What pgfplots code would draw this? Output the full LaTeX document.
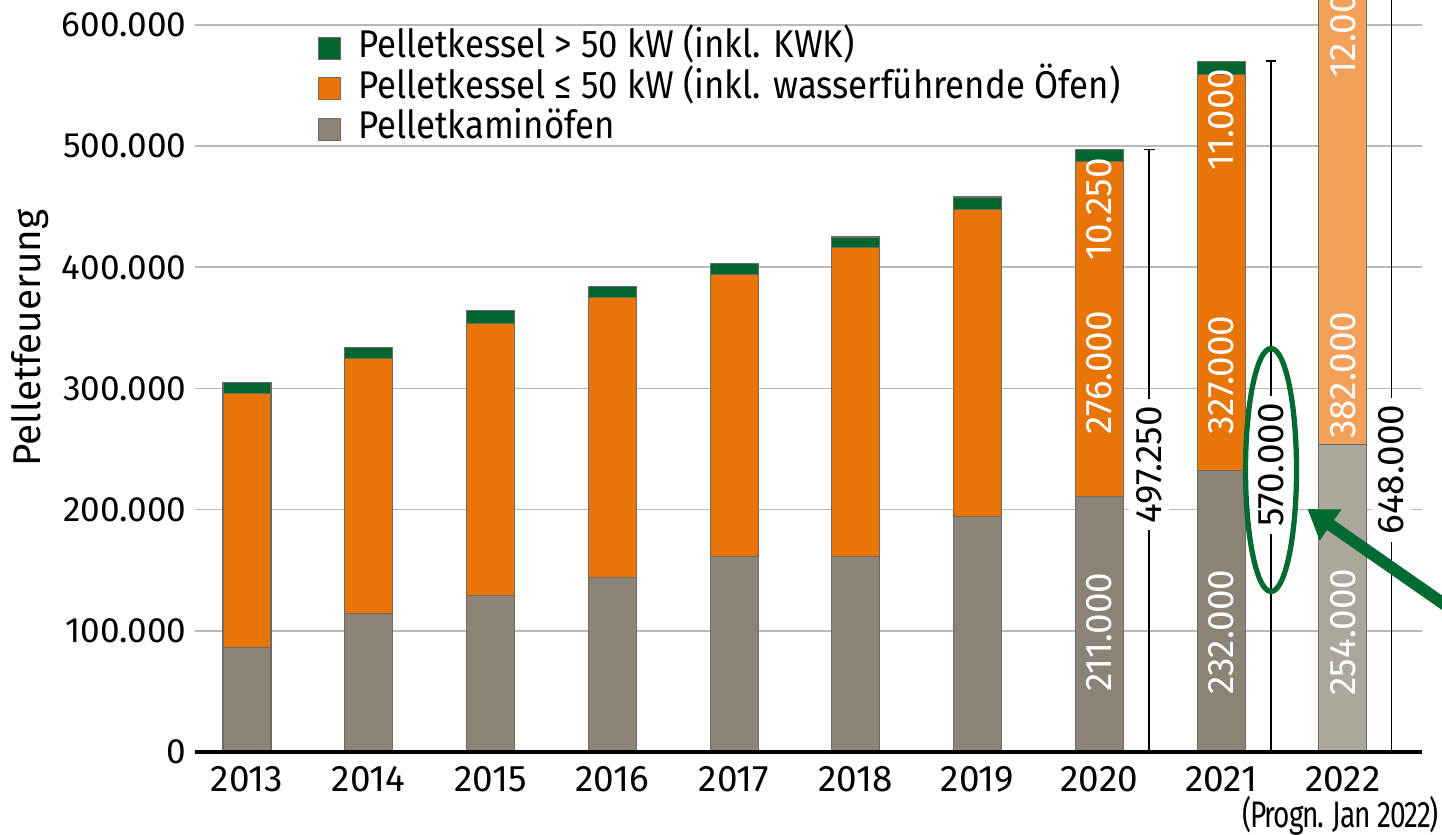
\documentclass[border=0pt]{standalone}
\usepackage{fontspec}
\setmainfont{Fira Sans}
\newfontfamily\condfont{Fira Sans}[FakeStretch=0.9]
\newfontfamily\narrowfont{Fira Sans}[FakeStretch=0.76, LetterSpace=-3]
\usepackage{pgfplots}
\pgfplotsset{compat=1.18}
\usetikzlibrary{arrows.meta}

\definecolor{cgray}{HTML}{8A8376}
\definecolor{corange}{HTML}{E97508}
\definecolor{cgreen}{HTML}{00652F}
\definecolor{lgray}{HTML}{ABA79B}
\definecolor{lorange}{HTML}{F2A05A}
\definecolor{agreen}{HTML}{006B30}
\definecolor{edge}{HTML}{6E6A62}

\pgfplotsset{
  base/.style={scale only axis, width=12.27cm, height=7.52cm,
    xmin=-0.427, xmax=9.65, ymin=0, ymax=620.6, clip=false},
}
\tikzset{
  lab/.style={rotate=90, text=white, font=\fontsize{10.5}{12}\selectfont, inner sep=0pt},
  tot/.style={rotate=90, text=black, fill=white, font=\fontsize{10.5}{12}\selectfont, inner sep=0.07cm},
}

\begin{document}
\begin{tikzpicture}
% ---------------- main axis: 2013-2021 ----------------
\begin{axis}[base,
  ybar stacked, bar width=0.48cm,
  axis x line*=bottom, axis y line*=left,
  y axis line style={draw=none},
  x axis line style={line width=0.9pt, black},
  major tick length=0pt,
  ymajorgrids, grid style={black!28, line width=0.45pt},
  ytick={0,100,200,300,400,500,600},
  yticklabels={0,100.000,200.000,300.000,400.000,500.000,600.000},
  xtick={0,1,2,3,4,5,6,7,8,9},
  xticklabels={2013,2014,2015,2016,2017,2018,2019,2020,2021,2022},
  xticklabel style={font=\fontsize{10.5}{12}\selectfont, inner sep=0pt, anchor=north, yshift=-0.14cm},
  yticklabel style={font=\fontsize{10}{12}\selectfont, inner sep=0pt, anchor=east, xshift=-0.08cm},
  legend image code/.code={\draw[#1] (0cm,-0.11cm) rectangle (0.22cm,0.11cm);},
  reverse legend,
  legend cell align=left,
  legend style={draw=none, fill=none, at={(0.1002,0.96)}, anchor=north west,
    inner sep=0pt, outer sep=0pt,
    font=\condfont\fontsize{11}{13}\selectfont,
    nodes={inner sep=0pt, text height=7.8pt, text depth=2.6pt},
    row sep=0.04cm,
    /tikz/every odd column/.append style={column sep=0.17cm}},
]
\addplot[fill=cgray, draw=edge, line width=0.3pt] coordinates {
  (0,86) (1,114) (2,129) (3,144) (4,161) (5,161) (6,194) (7,211) (8,232)};
\addlegendentry{Pelletkaminöfen}
\addplot[fill=corange, draw=edge, line width=0.3pt] coordinates {
  (0,210) (1,211) (2,225) (3,231) (4,233) (5,255) (6,254) (7,276) (8,327)};
\addlegendentry{Pelletkessel ≤ 50 kW (inkl. wasserführende Öfen)}
\addplot[fill=cgreen, draw=edge, line width=0.3pt] coordinates {
  (0,9) (1,9) (2,10) (3,9) (4,9) (5,9) (6,10) (7,10.25) (8,11)};
\addlegendentry{Pelletkessel > 50 kW (inkl. KWK)}

\coordinate (bl) at (rel axis cs:0,0);
\coordinate (tr) at (rel axis cs:1,1);
\end{axis}

% ---------------- 2022 forecast bar ----------------
\begin{axis}[base, hide axis, ybar stacked, bar width=0.48cm]
\addplot[fill=lgray, draw=edge, line width=0.3pt] coordinates {(9,254)};
\addplot[fill=lorange, draw=edge, line width=0.3pt] coordinates {(9,382)};
\addplot[fill=cgreen!70!white, draw=edge, line width=0.3pt] coordinates {(9,12)};
\end{axis}

% ---------------- totals, labels, annotations ----------------
\begin{axis}[base, hide axis]
\addplot[black, line width=0.9pt] coordinates {(-0.427,0) (9.65,0)};
\addplot[black, line width=0.5pt] coordinates {(7.41,0) (7.41,497.25)};
\addplot[black, line width=0.5pt] coordinates {(7.365,497.25) (7.455,497.25)};
\addplot[black, line width=0.5pt] coordinates {(8.41,0) (8.41,570)};
\addplot[black, line width=0.5pt] coordinates {(8.365,570) (8.455,570)};
\addplot[black, line width=0.5pt] coordinates {(9.40,0) (9.40,648)};

\node[lab] at (axis cs:7,99) {211.000};
\node[lab] at (axis cs:7,313) {276.000};
\node[lab] at (axis cs:7,448) {10.250};
\node[lab] at (axis cs:8,99) {232.000};
\node[lab] at (axis cs:8,311) {327.000};
\node[lab] at (axis cs:8,522) {11.000};
\node[lab] at (axis cs:9,99) {254.000};
\node[lab] at (axis cs:9,311) {382.000};
\node[lab] at (axis cs:9,600) {12.000};

\node[tot] at (axis cs:7.41,237) {497.250};
\node[tot] at (axis cs:8.41,237) {570.000};
\node[tot] at (axis cs:9.40,233) {648.000};

\node[rotate=90, font=\fontsize{11}{13}\selectfont] at (axis cs:-1.782,341.7) {Pelletfeuerung};
\node[anchor=east, inner sep=0pt, font=\narrowfont\fontsize{10.5}{12}\selectfont] at (axis cs:9.795,-53) {(Progn. Jan 2022)};

\draw[agreen, line width=1.5pt] (axis cs:8.41,232.7) ellipse [x radius=0.255cm, y radius=1.215cm];
\draw[agreen, line width=3.4pt, -{Triangle[length=0.28cm, width=0.36cm]}] (axis cs:9.96,113) -- (axis cs:8.71,200.5);
\end{axis}

\pgfresetboundingbox
\path[use as bounding box] ([xshift=-1.95cm, yshift=-0.83cm]bl) rectangle ([xshift=0.2cm]tr);
\end{tikzpicture}
\end{document}
